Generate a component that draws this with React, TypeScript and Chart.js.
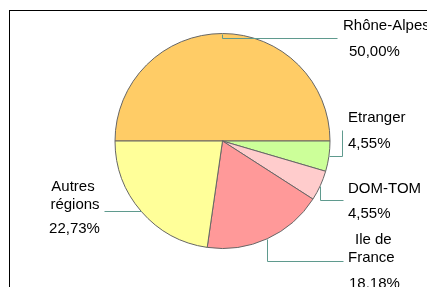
import { useEffect, useRef } from 'react';
import { Chart, registerables } from 'chart.js';
Chart.register(...registerables);

const categories = ['Rhône-Alpes', 'Etranger', 'DOM-TOM', 'Ile de France', 'Autres régions'];
const counts = [11, 1, 1, 4, 5];
const labelLines = [['Rhône-Alpes'], ['Etranger'], ['DOM-TOM'], ['Ile de', 'France'], ['Autres', 'régions']];
const sliceColors = ['#FFCC66', '#CCFF99', '#FFCCCC', '#FF9999', '#FFFF99'];

const total = counts.reduce((a, b) => a + b, 0);
const percentLabels = counts.map((v) => ((v / total) * 100).toFixed(2).replace('.', ',') + '%');

type Pt = [number, number];
// text offsets relative to the pie centre: [dx, dy (baseline), align]
const labelLayout: { texts: [number, number, CanvasTextAlign][]; leader: (p: Pt, cx: number, cy: number) => Pt[] }[] = [
  {
    texts: [[120.5, -111, 'left'], [126.5, -85, 'left']],
    leader: (p, cx, cy) => [[p[0], cy - 103], [cx + 114.5, cy - 103]],
  },
  {
    texts: [[125.5, -19, 'left'], [125.5, 7, 'left']],
    leader: (p, cx, cy) => [[cx + 119.5, p[1]], [cx + 119.5, cy - 11]],
  },
  {
    texts: [[125.5, 52, 'left'], [125.5, 77, 'left']],
    leader: (p, cx, cy) => [[p[0], cy + 59], [cx + 120.5, cy + 59]],
  },
  {
    texts: [[132.5, 103, 'left'], [125.5, 121, 'left'], [126.5, 147, 'left']],
    leader: (p, cx, cy) => [[p[0], cy + 120], [cx + 120.5, cy + 120]],
  },
  {
    texts: [[-149.5, 50, 'center'], [-147.5, 68, 'center'], [-148, 92, 'center']],
    leader: (p, cx) => [[cx - 118.5, p[1]]],
  },
];

const framePlugin = {
  id: 'frame',
  beforeDraw(chart: any) {
    const { ctx, width, height } = chart;
    ctx.save();
    ctx.fillStyle = '#000';
    ctx.fillRect(1, 2, width, 1);
    ctx.fillRect(1, 2, 1, height);
    ctx.restore();
  },
};

const labelPlugin = {
  id: 'outerLabels',
  afterDraw(chart: any) {
    const { ctx } = chart;
    const meta = chart.getDatasetMeta(0);
    ctx.save();
    meta.data.forEach((arc: any, i: number) => {
      const { x, y, startAngle, endAngle, outerRadius } = arc.getProps(['x', 'y', 'startAngle', 'endAngle', 'outerRadius'], true);
      const mid = (startAngle + endAngle) / 2;
      const p: Pt = [x + outerRadius * Math.cos(mid), y + outerRadius * Math.sin(mid)];
      const lay = labelLayout[i];
      const pts = [p, ...lay.leader(p, x, y)];
      ctx.strokeStyle = '#5f9a8e';
      ctx.lineWidth = 1;
      ctx.beginPath();
      pts.forEach((q, k) => {
        const qx = Math.round(q[0]) + 0.5;
        const qy = Math.round(q[1]) + 0.5;
        if (k === 0) ctx.moveTo(qx, qy);
        else ctx.lineTo(qx, qy);
      });
      ctx.stroke();
      const lines = [...labelLines[i], percentLabels[i]];
      ctx.fillStyle = '#000';
      ctx.font = '15px "Liberation Sans", Arial, sans-serif';
      ctx.textBaseline = 'alphabetic';
      lines.forEach((t, k) => {
        const [dx, dy, align] = lay.texts[k];
        ctx.textAlign = align;
        ctx.fillText(t, x + dx, y + dy);
      });
    });
    ctx.restore();
  },
};

export default function App() {
  const ref = useRef<HTMLCanvasElement>(null);
  useEffect(() => {
    document.documentElement.style.overflow = 'hidden';
    document.body.style.overflow = 'hidden';
    const chart = new Chart(ref.current!, {
      type: 'pie',
      data: {
        labels: categories,
        datasets: [
          {
            data: counts,
            backgroundColor: sliceColors,
            borderColor: '#666',
            borderWidth: 1,
          },
        ],
      },
      options: {
        responsive: false,
        animation: false,
        rotation: -90,
        radius: 107.5,
        layout: { padding: { left: 2, right: 0, top: 0, bottom: 13 } },
        plugins: { legend: { display: false }, tooltip: { enabled: false } },
      },
      plugins: [framePlugin, labelPlugin],
    });
    return () => chart.destroy();
  }, []);
  return <canvas ref={ref} width={427} height={279} style={{ display: 'block' }} />;
}
